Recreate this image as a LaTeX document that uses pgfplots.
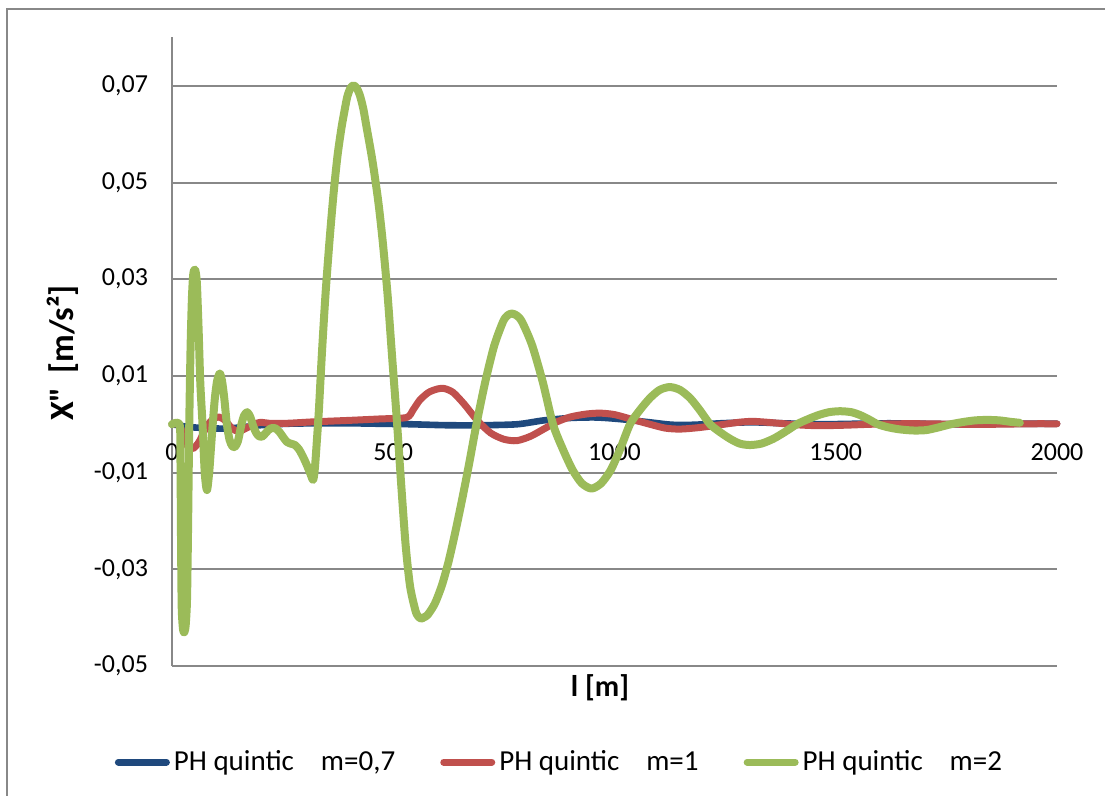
\documentclass[border=0pt]{standalone}
\usepackage{pgfplots}
\pgfplotsset{compat=1.18}
\usepackage{fontspec}
\setmainfont{Carlito}
\definecolor{cblue}{HTML}{1F497D}
\definecolor{cred}{HTML}{C0504D}
\definecolor{cgreen}{HTML}{9BBB59}
\definecolor{cgrid}{HTML}{888888}

\pgfplotstableread{
x y
0 0
20 -0.0003
40 -0.0006
80 -0.0008
120 -0.0009
160 -0.0006
200 -0.0002
260 0.0001
330 0.0002
400 0.0002
470 0.0001
540 0.0000
620 -0.0002
700 -0.0002
780 0.0
840 0.0008
900 0.0013
960 0.0014
1020 0.0010
1080 0.0004
1130 -0.0001
1180 -0.0001
1240 0.0002
1310 0.0004
1380 0.0002
1460 0.0
1540 0.0001
1620 0.0002
1700 0.0001
1780 0.0
1860 0.0001
1940 0.0001
2000 0.0001
}\blue

\pgfplotstableread{
x y
0 0
15 0
25 -0.002
35 -0.0045
48 -0.005
62 -0.0035
78 -0.0005
92 0.001
106 0.0015
120 0.0008
135 -0.0008
150 -0.0015
168 -0.0008
185 0.0
200 0.0004
220 0.0002
260 0.0002
320 0.0005
400 0.0008
470 0.0011
530 0.0014
545 0.003
560 0.005
580 0.0066
600 0.0073
615 0.0074
635 0.0066
660 0.0042
690 0.0008
720 -0.0018
750 -0.0031
779 -0.0034
810 -0.0025
840 -0.001
870 0.0005
900 0.0015
935 0.0021
967 0.0023
1000 0.002
1040 0.001
1080 0.0
1115 -0.0008
1148 -0.001
1190 -0.0007
1240 -0.0001
1280 0.0004
1313 0.0006
1360 0.0003
1410 -0.0001
1460 -0.0003
1520 -0.0002
1580 0.0
1640 0.0001
1700 0.0001
1780 0.0
1860 0.0
1940 0.0001
2000 0.0001
}\red

\pgfplotstableread{
x y
0 0
17 0
19 -0.006
20.5 -0.025
22 -0.038
25 -0.0425
28 -0.043
31 -0.0415
34 -0.036
36.5 -0.02
39 0
42 0.016
45 0.026
48 0.031
52 0.032
56 0.0295
60 0.02
64 0.0085
69 0
74 -0.01
79 -0.0136
84 -0.01
88 -0.005
92 0
97 0.0055
102 0.009
108 0.0105
113 0.009
118 0.0055
124 0
130 -0.0032
136 -0.0045
142 -0.0047
149 -0.0035
157 0
163 0.0018
170 0.0025
177 0.0015
184 -0.0005
191 -0.0019
197 -0.0025
203 -0.0026
210 -0.002
218 -0.0012
225 -0.0008
233 -0.0008
242 -0.0015
250 -0.0025
259 -0.0036
268 -0.004
278 -0.0043
287 -0.0052
296 -0.0067
305 -0.0085
313 -0.0103
319 -0.0115
323 -0.009
328 -0.0026
332 0.003
339 0.015
347 0.027
356 0.038
365 0.0476
374 0.0555
383 0.0613
390 0.0649
396 0.0677
403 0.0695
410 0.0701
417 0.0696
424 0.0682
432 0.0654
440 0.0613
453 0.0545
466 0.0462
476 0.038
487 0.027
497 0.0145
508 0.001
518 -0.0125
528 -0.025
538 -0.0335
550 -0.0385
556 -0.0397
563 -0.0402
570 -0.0399
578 -0.0394
594 -0.0371
610 -0.0333
625 -0.0284
640 -0.0224
656 -0.0154
672 -0.0079
688 0
708 0.0088
728 0.0162
748 0.0212
758 0.0225
768 0.0229
779 0.0225
791 0.0212
814 0.0163
838 0.0087
861 0
883 -0.0051
905 -0.0094
926 -0.0122
948 -0.0133
970 -0.0122
992 -0.0094
1013 -0.0051
1035 0
1057 0.0029
1080 0.0054
1102 0.0071
1125 0.0077
1148 0.0071
1171 0.0054
1193 0.0029
1216 0
1238 -0.0016
1261 -0.003
1283 -0.004
1306 -0.0043
1332 -0.004
1359 -0.003
1385 -0.0016
1412 0
1436 0.001
1461 0.0019
1485 0.0025
1510 0.0027
1535 0.0025
1555 0.0019
1575 0.001
1595 0
1617 -0.0006
1640 -0.001
1660 -0.0012
1680 -0.0013
1705 -0.0012
1730 -0.0007
1760 0
1790 0.0005
1815 0.0008
1842 0.0009
1870 0.0008
1895 0.0005
1916 0.0003
}\green

\begin{document}
\begin{tikzpicture}
\useasboundingbox (0,0) rectangle (552.5pt,398pt);
\draw[cgrid, line width=0.7pt] (3.5pt,-1pt) -- (3.5pt,393.5pt) -- (553pt,393.5pt);
\begin{axis}[
  name=main,
  scale only axis,
  anchor=south west, at={(86pt,65pt)},
  width=442.5pt, height=314.25pt,
  xmin=0, xmax=2000, ymin=-0.05, ymax=0.08,
  axis x line*=middle, axis y line*=left,
  x axis line style={draw=none},
  y axis line style={cgrid, line width=1pt, -},
  hide obscured x ticks=false, hide obscured y ticks=false,
  major tick length=0pt,
  xtick={0,500,1000,1500,2000},
  ytick={-0.05,-0.03,-0.01,0.01,0.03,0.05,0.07},
  scaled y ticks=false, scaled x ticks=false,
  ymajorgrids, major grid style={cgrid, line width=1pt},
  tick label style={font=\fontsize{13}{15}\selectfont},
  /pgf/number format/assume math mode=true,
  xticklabel style={/pgf/number format/1000 sep={}, yshift=-6pt},
  yticklabel style={/pgf/number format/.cd, fixed, fixed zerofill, precision=2, use comma, /tikz/.cd, xshift=-8.5pt},
  every axis plot/.append style={smooth, tension=0.45, line join=round, line cap=round},
  legend columns=3,
  legend style={at={(0.439,-0.153)}, anchor=center, draw=none, fill=none,
    font=\fontsize{14.5}{17}\selectfont,
    /tikz/every even column/.append style={column sep=20.5pt}},
  legend image code/.code={\draw[#1, line width=3.5pt, line cap=round] (0pt,0pt) -- (24pt,0pt);},
  clip=false,
]
\addplot[cblue, line width=3.3pt] table {\blue};
\addlegendentry{PH quintic\hspace{13.5pt}m=0,7}
\addplot[cred, line width=3.5pt] table {\red};
\addlegendentry{PH quintic\hspace{13.5pt}m=1}
\addplot[cgreen, line width=4pt] table {\green};
\addlegendentry{PH quintic\hspace{13.5pt}m=2}
\end{axis}
\node[font=\bfseries\fontsize{17}{20}\selectfont, rotate=90] at (31.5pt,221.5pt) {X\textquotedbl\hspace{0.4em}[m/s²]};
\node[font=\bfseries\fontsize{15}{18}\selectfont] at (300pt,54pt) {l [m]};
\end{tikzpicture}
\end{document}
